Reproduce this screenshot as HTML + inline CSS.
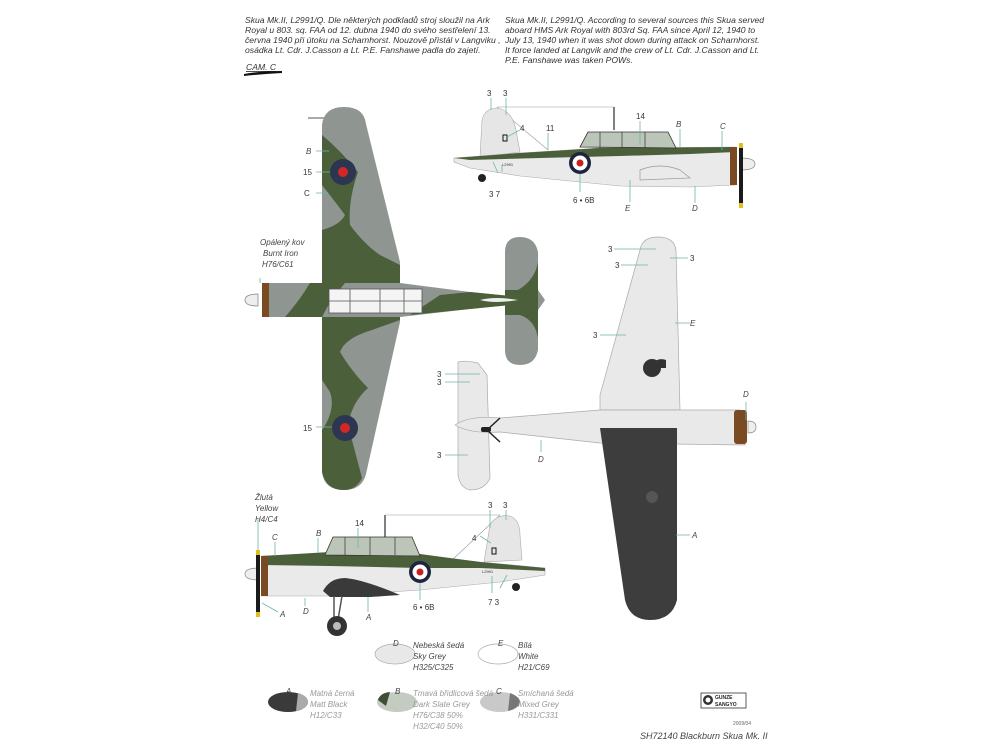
<!DOCTYPE html>
<html><head><meta charset="utf-8"><style>
html,body{margin:0;padding:0;background:#fff;}
svg{display:block;}
text{font-family:"Liberation Sans",sans-serif;}
.t{font-size:8.6px;font-style:italic;fill:#333;}
.l{font-size:8px;fill:#333;}
.li{font-size:8px;fill:#444;font-style:italic;}
.g{font-size:8px;fill:#999;font-style:italic;}
.ld{stroke:#6fb5a8;stroke-width:0.8;fill:none;}
</style></head><body>
<svg width="1000" height="750" viewBox="0 0 1000 750" xmlns="http://www.w3.org/2000/svg">
<rect width="1000" height="750" fill="#fff"/>
<g class="t">
<text x="245" y="23">Skua Mk.II, L2991/Q. Dle některých podkladů stroj sloužil na Ark</text>
<text x="245" y="33">Royal u 803. sq. FAA od 12. dubna 1940 do svého sestřelení 13.</text>
<text x="245" y="43">června 1940 při útoku na Scharnhorst. Nouzově přistál v Langviku ,</text>
<text x="245" y="53">osádka Lt. Cdr. J.Casson a Lt. P.E. Fanshawe padla do zajetí.</text>
<text x="505" y="23">Skua Mk.II, L2991/Q. According to several sources this Skua served</text>
<text x="505" y="33">aboard HMS Ark Royal with 803rd Sq. FAA since April 12, 1940 to</text>
<text x="505" y="43">July 13, 1940 when it was shot down during attack on Scharnhorst.</text>
<text x="505" y="53">It force landed at Langvik and the crew of Lt. Cdr. J.Casson and Lt.</text>
<text x="505" y="63">P.E. Fanshawe was taken POWs.</text>
<text x="246" y="70" style="text-decoration:underline">CAM. C</text>
</g>
<path d="M244,74 Q260,71 282,71 L282,73 Q262,74 244,76Z" fill="#111"/>

<!-- TOP VIEW -->
<g>
<line x1="308" y1="118" x2="335" y2="118" stroke="#555" stroke-width="1"/>
<path d="M322,125 Q324,107 344,107 Q364,107 366,124 L400,262 L400,322 L366,474 Q362,490 344,490 Q324,490 322,472 Z" fill="#8f9591"/>
<path d="M322,135 Q340,150 358,172 Q348,200 350,225 Q365,245 380,255 L400,265 L400,320 L372,330 Q345,338 340,352 Q352,372 368,388 Q352,402 348,425 L362,478 Q356,490 344,490 Q326,490 322,472 L322,430 Q336,410 330,392 L322,380 L322,230 Q340,225 345,215 Q330,195 322,185Z" fill="#4c5f3b"/>
<path d="M262,283 L400,283 L470,292 L520,297 L520,304 L470,309 L400,317 L262,317Z" fill="#8f9591"/>
<path d="M285,317 Q300,300 310,283 L345,283 Q330,300 322,317Z M410,315 L440,295 L470,292 L520,297 L520,304 L470,309 Z" fill="#4c5f3b"/>
<path d="M505,252 Q505,237 520,237 Q535,237 538,252 L538,290 L545,300 L538,310 L538,350 Q535,365 520,365 Q505,365 505,350Z" fill="#8f9591"/>
<path d="M518,290 Q535,280 538,262 L538,338 Q535,320 520,315 L505,315 L505,290Z" fill="#4c5f3b"/>
<rect x="329" y="289" width="93" height="24" fill="#f4f4f4" stroke="#555" stroke-width="0.8"/>
<path d="M350,289 V313 M380,289 V313 M404,289 V313 M329,301 H422" stroke="#555" stroke-width="0.8"/>
<path d="M480,300 Q495,296 518,300 Q495,304 480,300Z" fill="#eee"/>
<rect x="262" y="283" width="7" height="34" fill="#7a4a22"/>
<path d="M258,294 Q245,294 245,300 Q245,306 258,306Z" fill="#eee" stroke="#888" stroke-width="0.8"/>
<circle cx="343" cy="172" r="13" fill="#2c3650"/><circle cx="343" cy="172" r="5" fill="#d02828"/>
<circle cx="345" cy="428" r="13" fill="#2c3650"/><circle cx="345" cy="428" r="5" fill="#d02828"/>
</g>
<g class="ld"><path d="M316,151 H329 M316,172 H330 M316,193 H328 M316,427 H332 M260,278 V283"/></g>
<g class="l"><text x="306" y="154" class="li">B</text><text x="303" y="175">15</text><text x="304" y="196">C</text><text x="303" y="431">15</text></g>
<g class="li"><text x="260" y="245">Opálený kov</text><text x="263" y="256">Burnt Iron</text><text x="262" y="267">H76/C61</text></g>

<!-- SIDE VIEW TOP RIGHT -->
<g>
<line x1="497" y1="107" x2="614" y2="107" stroke="#999" stroke-width="0.6"/>
<line x1="614" y1="107" x2="614" y2="130" stroke="#555" stroke-width="1.5"/>
<line x1="497" y1="107" x2="548" y2="150" stroke="#999" stroke-width="0.6"/>
<path d="M480,157 L482,120 Q485,108 497,108 Q512,110 516,130 L520,152Z" fill="#e6e6e6" stroke="#aaa" stroke-width="0.6"/>
<path d="M454,158 L520,153 L600,148 L735,147 L735,185 L690,187 L620,186 L520,176 L470,168 L454,162Z" fill="#eaeaea" stroke="#aaa" stroke-width="0.6"/>
<path d="M454,158 L520,153 L600,148 L735,147 L735,152 L690,154 L620,156 L540,158 L470,160Z" fill="#4c5f3b"/>
<path d="M580,147 L588,132 L668,132 L676,148Z" fill="#bcc6b8" stroke="#333" stroke-width="0.8"/>
<path d="M600,132 V148 M622,132 V148 M645,132 V148" stroke="#333" stroke-width="0.7"/>
<path d="M640,170 Q660,162 680,170 L690,178 L640,180Z" fill="none" stroke="#999" stroke-width="0.7"/>
<rect x="730" y="147" width="7" height="38" fill="#7a4a22"/>
<path d="M741,158 Q755,158 755,164 Q755,170 741,170Z" fill="#eee" stroke="#888" stroke-width="0.7"/>
<path d="M739,143 L743,143 L743,208 L739,208Z" fill="#1a1a1a"/>
<rect x="739" y="143" width="4" height="5" fill="#e0c020"/><rect x="739" y="203" width="4" height="5" fill="#e0c020"/>
<circle cx="580" cy="163" r="11" fill="#1c2440"/><circle cx="580" cy="163" r="7.5" fill="#fff"/><circle cx="580" cy="163" r="3.5" fill="#c82020"/>
<circle cx="482" cy="178" r="4" fill="#222"/>
<text x="502" y="166" style="font-size:4px;fill:#333">L2991</text>
<rect x="503" y="135" width="4" height="6" fill="none" stroke="#111" stroke-width="1"/>
</g>
<g class="ld"><path d="M491,98 V110 M506,98 V115 M520,130 L507,137 M548,133 L548,150 M640,121 V145 M680,129 V148 M722,131 V150 M493,162 L498,173 M502,165 V172 M580,174 V192 M630,180 V202 M695,186 V203"/></g>
<g class="l"><text x="487" y="96">3</text><text x="503" y="96">3</text><text x="520" y="131">4</text><text x="546" y="131">11</text><text x="636" y="119">14</text><text x="676" y="127" class="li">B</text><text x="720" y="129" class="li">C</text><text x="489" y="197">3 7</text><text x="573" y="203">6 • 6B</text><text x="625" y="211" class="li">E</text><text x="692" y="211" class="li">D</text></g>

<!-- BOTTOM VIEW RIGHT -->
<g fill="#e9e9e9" stroke="#aaa" stroke-width="0.7">
<path d="M640,250 Q642,237 658,237 Q674,237 676,250 L680,410 L600,410 L600,395Z"/>
<path d="M458,362 Q465,360 478,363 L487,375 L490,478 Q485,490 470,490 Q460,488 458,475Z"/>
<path d="M455,425 Q470,415 500,418 L600,410 L740,410 L745,445 L600,443 L500,432 Q470,434 455,425Z"/>
</g>
<path d="M600,428 L677,428 L677,600 Q672,620 650,620 Q630,620 625,600Z" fill="#3d3d3d"/>
<path d="M487,430 L500,418 M487,430 L500,442" stroke="#222" stroke-width="1.5" fill="none"/>
<rect x="481" y="427" width="10" height="5" rx="2" fill="#222"/>
<path d="M650,368 A12,12 0 0 1 666,360 L666,368Z" fill="#333"/><circle cx="652" cy="368" r="9" fill="#333"/>
<rect x="734" y="410" width="13" height="34" rx="3" fill="#7a4a22"/>
<path d="M748,421 Q756,421 756,427 Q756,433 748,433Z" fill="#eee" stroke="#888" stroke-width="0.7"/>
<circle cx="652" cy="497" r="6" fill="#555"/>
<g class="ld"><path d="M614,249 H656 M621,265 H648 M670,258 H688 M675,323 H690 M600,335 H626 M445,374 H480 M445,382 H470 M445,455 H468 M541,440 V452 M746,402 V420 M676,535 H690"/></g>
<g class="l"><text x="608" y="252">3</text><text x="615" y="268">3</text><text x="690" y="261">3</text><text x="593" y="338">3</text><text x="437" y="377">3</text><text x="437" y="385">3</text><text x="437" y="458">3</text></g>
<g class="li"><text x="690" y="326">E</text><text x="538" y="462">D</text><text x="743" y="397">D</text><text x="692" y="538">A</text></g>

<!-- SIDE VIEW BOTTOM LEFT -->
<g>
<line x1="385" y1="515" x2="500" y2="515" stroke="#999" stroke-width="0.6"/>
<line x1="385" y1="515" x2="385" y2="540" stroke="#555" stroke-width="1.5"/>
<line x1="500" y1="515" x2="452" y2="560" stroke="#999" stroke-width="0.6"/>
<path d="M484,562 L490,525 Q496,514 510,516 Q520,520 520,535 L522,560Z" fill="#e6e6e6" stroke="#aaa" stroke-width="0.6"/>
<path d="M262,556 L330,553 L420,555 L480,562 L545,568 L545,575 L500,582 L420,590 L330,596 L262,596Z" fill="#eaeaea" stroke="#aaa" stroke-width="0.6"/>
<path d="M262,556 L330,552 L420,554 L480,562 L545,568 L545,571 L480,568 L420,568 L330,566 L262,565Z" fill="#4c5f3b"/>
<path d="M323,591 Q330,578 345,578 Q365,580 400,595 L370,597 L330,597Z" fill="#3a3a3a"/>
<path d="M325,555 L333,537 L412,537 L420,556Z" fill="#bcc6b8" stroke="#333" stroke-width="0.8"/>
<path d="M345,537 V555 M370,537 V555 M395,537 V555" stroke="#333" stroke-width="0.7"/>
<rect x="261" y="556" width="7" height="40" fill="#7a4a22"/>
<path d="M259,568 Q245,568 245,574 Q245,580 259,580Z" fill="#eee" stroke="#888" stroke-width="0.7"/>
<path d="M256,550 L260,550 L260,617 L256,617Z" fill="#1a1a1a"/>
<rect x="256" y="550" width="4" height="5" fill="#e0c020"/><rect x="256" y="612" width="4" height="5" fill="#e0c020"/>
<path d="M334,596 L334,620 M342,596 L338,620" stroke="#555" stroke-width="1.5"/>
<circle cx="337" cy="626" r="10" fill="#333"/><circle cx="337" cy="626" r="4" fill="#bbb"/>
<circle cx="420" cy="572" r="11" fill="#1c2440"/><circle cx="420" cy="572" r="7.5" fill="#fff"/><circle cx="420" cy="572" r="3.5" fill="#c82020"/>
<circle cx="516" cy="587" r="4" fill="#222"/>
<text x="482" y="573" style="font-size:4px;fill:#333">L2991</text>
<rect x="492" y="548" width="4" height="6" fill="none" stroke="#111" stroke-width="1"/>
</g>
<g class="ld"><path d="M258,520 V550 M275,542 V556 M318,538 V553 M358,528 V548 M262,603 L278,612 M305,598 V606 M368,597 V612 M420,583 V600 M490,510 V528 M506,510 V520 M480,536 L491,543 M492,576 V593 M500,588 L507,575"/></g>
<g class="l"><text x="355" y="526">14</text><text x="488" y="508">3</text><text x="503" y="508">3</text><text x="472" y="541">4</text><text x="413" y="610">6 • 6B</text><text x="488" y="605">7 3</text></g>
<g class="li"><text x="272" y="540">C</text><text x="316" y="536">B</text><text x="280" y="617">A</text><text x="303" y="614">D</text><text x="366" y="620">A</text><text x="255" y="500">Žlutá</text><text x="255" y="511">Yellow</text><text x="255" y="522">H4/C4</text></g>

<!-- LEGEND -->
<ellipse cx="395" cy="654" rx="20" ry="10" fill="#e8e8e8" stroke="#aaa" stroke-width="0.7"/>
<ellipse cx="498" cy="654" rx="20" ry="10" fill="#fff" stroke="#aaa" stroke-width="0.7"/>
<ellipse cx="288" cy="702" rx="20" ry="10" fill="#3a3a3a"/>
<path d="M298,693 Q308,696 308,702 Q308,708 296,711 Z" fill="#aaa"/>
<ellipse cx="397" cy="702" rx="20" ry="10" fill="#c4cbc0"/>
<path d="M378,700 Q380,693 390,692 L386,706Z" fill="#3e4d33"/>
<ellipse cx="500" cy="702" rx="20" ry="10" fill="#c9c9c9"/>
<path d="M510,693 Q520,697 520,702 Q519,708 508,711 Z" fill="#777"/>
<g class="li"><text x="393" y="646">D</text><text x="413" y="648">Nebeská šedá</text><text x="413" y="659">Sky Grey</text><text x="413" y="670">H325/C325</text>
<text x="498" y="646">E</text><text x="518" y="648">Bílá</text><text x="518" y="659">White</text><text x="518" y="670">H21/C69</text>
<text x="286" y="694">A</text><text x="395" y="694">B</text><text x="496" y="694">C</text></g>
<g class="g"><text x="310" y="696">Matná černá</text><text x="310" y="707">Matt Black</text><text x="310" y="718">H12/C33</text>
<text x="413" y="696">Tmavá břidlicová šedá</text><text x="413" y="707">Dark Slate Grey</text><text x="413" y="718">H76/C38 50%</text><text x="413" y="729">H32/C40 50%</text>
<text x="518" y="696">Smíchaná šedá</text><text x="518" y="707">Mixed Grey</text><text x="518" y="718">H331/C331</text></g>
<rect x="701" y="693" width="45" height="15" fill="#fff" stroke="#333" stroke-width="0.8"/>
<circle cx="708" cy="700" r="5" fill="#333"/><circle cx="708" cy="700" r="2.5" fill="#fff"/>
<text x="715" y="699" style="font-size:5px;font-weight:bold;fill:#222">GUNZE</text>
<text x="715" y="706" style="font-size:5px;font-weight:bold;fill:#222">SANGYO</text>
<text x="733" y="725" style="font-size:5px;fill:#666">2009/04</text>
<text x="640" y="739" style="font-size:9px;font-style:italic;fill:#444">SH72140 Blackburn Skua Mk. II</text>
</svg>
</body></html>
